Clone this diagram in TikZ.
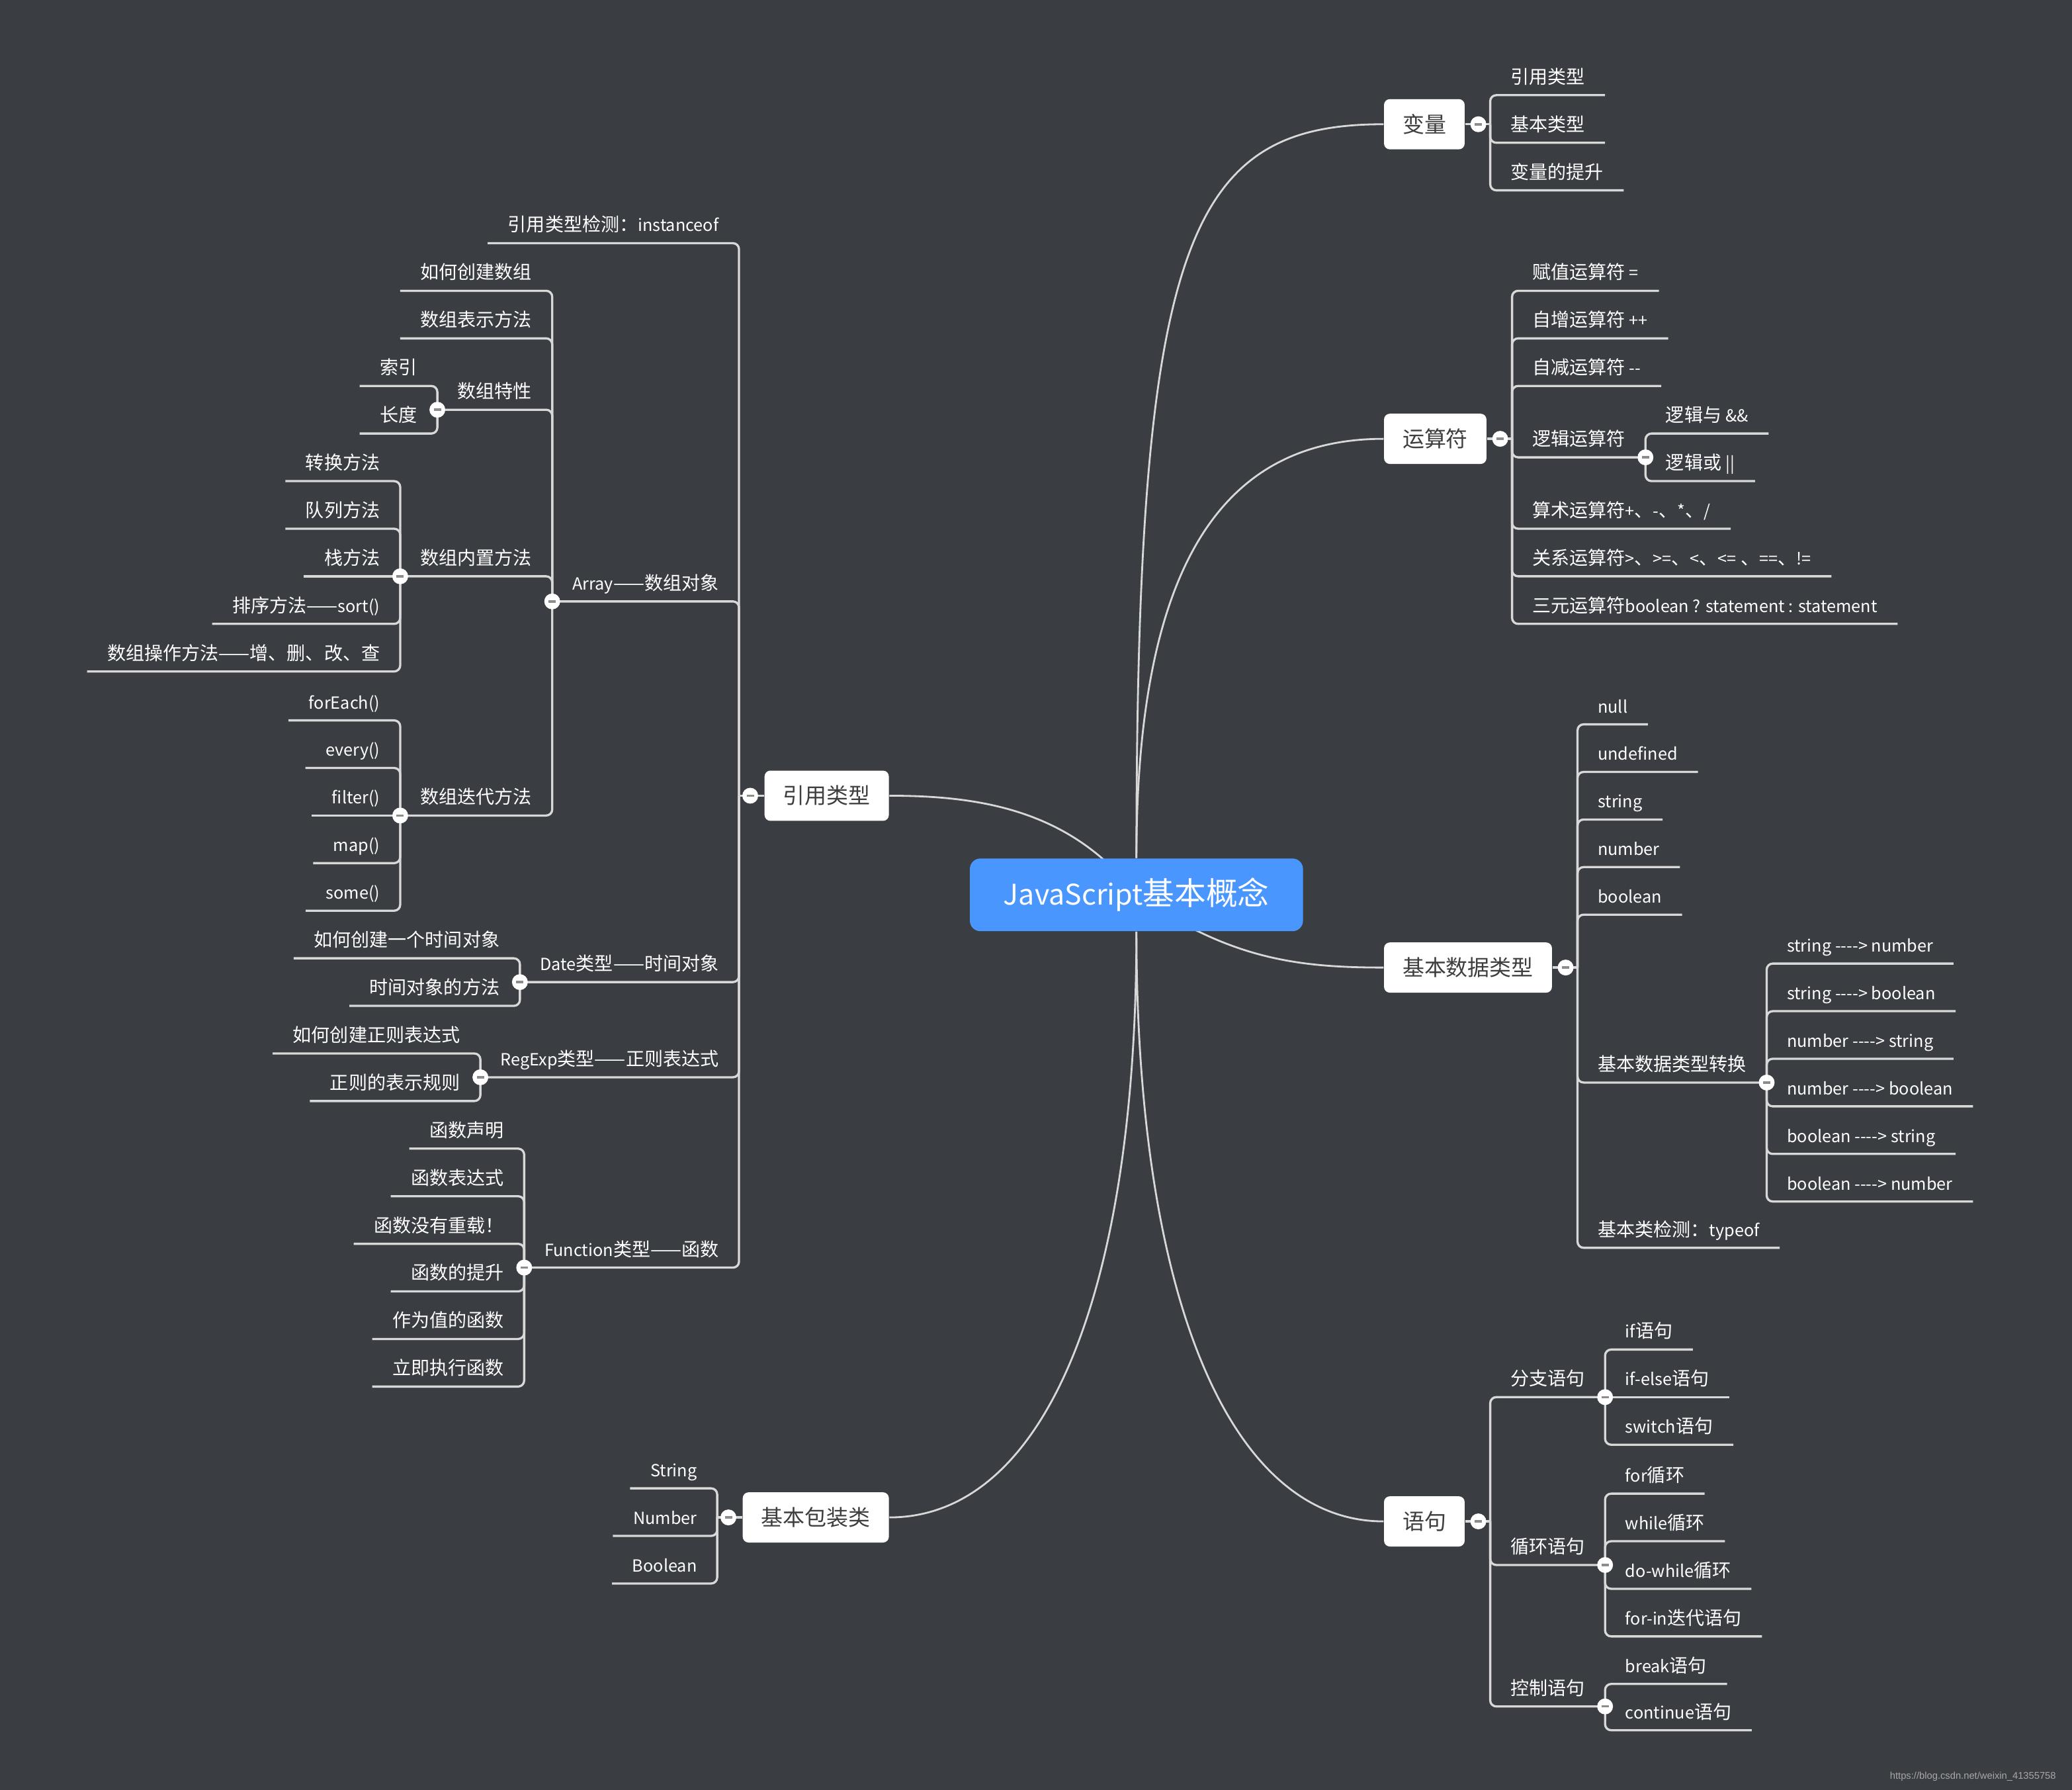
\documentclass[tikz,border=0pt]{standalone}
\usepackage{fontspec}
\setmainfont{Noto Sans CJK SC}[Ligatures=TeXOff]
\newfontfamily\latn{Noto Sans CJK SC}[Ligatures=TeXOff, Scale=0.9]
\newfontfamily\markfont{Liberation Sans}
\usetikzlibrary{positioning}

\definecolor{bgdark}{HTML}{3A3D42}
\definecolor{linegray}{HTML}{D8D8D8}
\definecolor{rootblue}{HTML}{4A96FF}
\definecolor{topictext}{HTML}{3E3E3E}
\definecolor{foldgray}{HTML}{8C8C8C}
\definecolor{markgray}{HTML}{A8A8A8}

\pgfdeclarelayer{bg}
\pgfdeclarelayer{curves}
\pgfsetlayers{bg,curves,main}

\tikzset{
    leafnode/.style={text=white, font=\fontsize{8}{10}\selectfont,
        inner xsep=0.3cm, inner ysep=0pt, text height=7pt, text depth=4.8pt},
    leafR/.style={leafnode, anchor=south west},
    leafL/.style={leafnode, anchor=south east},
    topicbox/.style={fill=white, text=topictext, rounded corners=2.5pt,
        font=\fontsize{9.4}{11}\selectfont, inner xsep=0.28cm, inner ysep=0pt,
        minimum height=0.76cm},
    rootbox/.style={fill=rootblue, text=white, rounded corners=4.5pt,
        font=\fontsize{13.6}{16}\selectfont, inner xsep=0.51cm, inner ysep=0pt,
        minimum height=1.1cm},
    branchline/.style={draw=linegray, line width=0.95pt, rounded corners=2.6pt},
    curveline/.style={draw=linegray, line width=0.8pt},
    foldmark/.style={circle, fill=white, minimum size=0.24cm, inner sep=0pt,
        path picture={\draw[foldgray, line width=1pt]
            ([xshift=-0.055cm]path picture bounding box.center) --
            ([xshift=0.055cm]path picture bounding box.center);}}
}

\begin{document}
\begin{tikzpicture}[x=0.02cm, y=-0.02cm]
    \useasboundingbox (0,0) rectangle (1568,1354);
    \begin{pgfonlayer}{bg}
        \fill[bgdark] (0,0) rectangle (1568,1354);
    \end{pgfonlayer}

    % centre and main topics
    \node[rootbox] (root) at (860,677) {{\latn JavaScript}基本概念};
    \node[topicbox, anchor=west] (var) at (1047,94) {变量};
    \node[topicbox, anchor=west] (op) at (1047,332) {运算符};
    \node[topicbox, anchor=west] (prim) at (1047,732) {基本数据类型};
    \node[topicbox, anchor=west] (stmt) at (1047,1151) {语句};
    \node[topicbox, anchor=east] (ref) at (673,602) {引用类型};
    \node[topicbox, anchor=east] (wrap) at (673,1148) {基本包装类};

    \coordinate[right=0.38cm of var] (varJ);
    \coordinate[right=0.38cm of op] (opJ);
    \coordinate[right=0.38cm of prim] (primJ);
    \coordinate[right=0.38cm of stmt] (stmtJ);
    \coordinate[left=0.38cm of ref] (refJ);
    \coordinate[left=0.38cm of wrap] (wrapJ);

    \begin{pgfonlayer}{curves}
        \draw[curveline] (root.north) .. controls (860,180) and (900,94) .. (var.west);
        \draw[curveline] (root.north) .. controls (860,420) and (930,332) .. (op.west);
        \draw[curveline] (root.center) .. controls (930,725) and (980,732) .. (prim.west);
        \draw[curveline] (root.south) .. controls (860,980) and (930,1151) .. (stmt.west);
        \draw[curveline] (root.center) .. controls (810,612) and (740,602) .. (ref.east);
        \draw[curveline] (root.south) .. controls (860,980) and (790,1148) .. (wrap.east);
    \end{pgfonlayer}

    % 变量
    \draw[branchline] (var) -- (varJ);
    \foreach \y/\n/\txt in {72/varA/引用类型, 108/varB/基本类型, 144/varC/变量的提升} {
        \node[leafR] (\n) at (varJ |- 0,\y) {\txt};
        \draw[branchline] (varJ) |- (\n.south east);
    }

    % 运算符
    \draw[branchline] (op) -- (opJ);
    \foreach \y/\n/\txt in {
        220/opA/赋值运算符 {\latn =},
        256/opB/自增运算符 {\latn ++},
        292/opC/自减运算符 {\latn --},
        346/opD/逻辑运算符,
        400/opE/{算术运算符{\latn +}、{\latn -}、{\latn *}、{\latn /}},
        436/opF/{关系运算符{\latn >}、{\latn >=}、{\latn <}、{\latn <=} 、{\latn ==}、{\latn !=}},
        472/opG/三元运算符{\latn boolean ? statement : statement}
    } {
        \node[leafR] (\n) at (opJ |- 0,\y) {\txt};
        \draw[branchline] (opJ) |- (\n.south east);
    }
    \foreach \y/\n/\txt in {328/opD1/逻辑与 {\latn \&\&}, 364/opD2/逻辑或 {\latn ||}} {
        \node[leafR] (\n) at (opD.south east |- 0,\y) {\txt};
        \draw[branchline] (opD.south east) |- (\n.south east);
    }

    % 基本数据类型
    \draw[branchline] (prim) -- (primJ);
    \foreach \y/\n/\txt in {
        548/primA/{\latn null},
        584/primB/{\latn undefined},
        620/primC/{\latn string},
        656/primD/{\latn number},
        692/primE/{\latn boolean},
        819/primF/基本数据类型转换,
        944/primG/基本类检测：{\latn typeof}
    } {
        \node[leafR] (\n) at (primJ |- 0,\y) {\txt};
        \draw[branchline] (primJ) |- (\n.south east);
    }
    \foreach \y/\n/\txt in {
        729/cvA/{\latn string ----> number},
        765/cvB/{\latn string ----> boolean},
        801/cvC/{\latn number ----> string},
        837/cvD/{\latn number ----> boolean},
        873/cvE/{\latn boolean ----> string},
        909/cvF/{\latn boolean ----> number}
    } {
        \node[leafR] (\n) at (primF.south east |- 0,\y) {\txt};
        \draw[branchline] (primF.south east) |- (\n.south east);
    }

    % 语句
    \draw[branchline] (stmt) -- (stmtJ);
    \foreach \y/\n/\txt in {1057/stA/分支语句, 1184/stB/循环语句, 1291/stC/控制语句} {
        \node[leafR] (\n) at (stmtJ |- 0,\y) {\txt};
        \draw[branchline] (stmtJ) |- (\n.south east);
    }
    \foreach \y/\n/\txt in {1021/ifA/{\latn if}语句, 1093/ifC/{\latn switch}语句} {
        \node[leafR] (\n) at (stA.south east |- 0,\y) {\txt};
        \draw[branchline] (stA.south east) |- (\n.south east);
    }
    \node[leafR] (ifB) at (stA.south east) {{\latn if-else}语句};
    \draw[branchline] (stA.south east) -- (ifB.south east);
    \foreach \y/\n/\txt in {1130/lpA/{\latn for}循环, 1166/lpB/{\latn while}循环, 1202/lpC/{\latn do-while}循环, 1238/lpD/{\latn for-in}迭代语句} {
        \node[leafR] (\n) at (stB.south east |- 0,\y) {\txt};
        \draw[branchline] (stB.south east) |- (\n.south east);
    }
    \foreach \y/\n/\txt in {1274/ctA/{\latn break}语句, 1309/ctB/{\latn continue}语句} {
        \node[leafR] (\n) at (stC.south east |- 0,\y) {\txt};
        \draw[branchline] (stC.south east) |- (\n.south east);
    }

    % 引用类型
    \draw[branchline] (ref) -- (refJ);
    \foreach \y/\n/\txt in {
        184/chk/引用类型检测：{\latn instanceof},
        455/arr/{\latn Array}——数组对象,
        743/date/{\latn Date}类型——时间对象,
        815/reg/{\latn RegExp}类型——正则表达式,
        959/fun/{\latn Function}类型——函数
    } {
        \node[leafL] (\n) at (refJ |- 0,\y) {\txt};
        \draw[branchline] (refJ) |- (\n.south west);
    }
    \foreach \y/\n/\txt in {220/arrA/如何创建数组, 256/arrB/数组表示方法, 310/arrC/数组特性, 436/arrD/数组内置方法, 617/arrE/数组迭代方法} {
        \node[leafL] (\n) at (arr.south west |- 0,\y) {\txt};
        \draw[branchline] (arr.south west) |- (\n.south west);
    }
    \foreach \y/\n/\txt in {292/idx/索引, 328/len/长度} {
        \node[leafL] (\n) at (arrC.south west |- 0,\y) {\txt};
        \draw[branchline] (arrC.south west) |- (\n.south west);
    }
    \foreach \y/\n/\txt in {364/bmA/转换方法, 400/bmB/队列方法, 472/bmD/排序方法——{\latn sort()}, 508/bmE/数组操作方法——增、删、改、查} {
        \node[leafL] (\n) at (arrD.south west |- 0,\y) {\txt};
        \draw[branchline] (arrD.south west) |- (\n.south west);
    }
    \node[leafL] (bmC) at (arrD.south west) {栈方法};
    \draw[branchline] (arrD.south west) -- (bmC.south west);
    \foreach \y/\n/\txt in {545/itA/{\latn forEach()}, 581/itB/{\latn every()}, 653/itD/{\latn map()}, 689/itE/{\latn some()}} {
        \node[leafL] (\n) at (arrE.south west |- 0,\y) {\txt};
        \draw[branchline] (arrE.south west) |- (\n.south west);
    }
    \node[leafL] (itC) at (arrE.south west) {{\latn filter()}};
    \draw[branchline] (arrE.south west) -- (itC.south west);
    \foreach \y/\n/\txt in {725/dtA/如何创建一个时间对象, 761/dtB/时间对象的方法} {
        \node[leafL] (\n) at (date.south west |- 0,\y) {\txt};
        \draw[branchline] (date.south west) |- (\n.south west);
    }
    \foreach \y/\n/\txt in {797/reA/如何创建正则表达式, 833/reB/正则的表示规则} {
        \node[leafL] (\n) at (reg.south west |- 0,\y) {\txt};
        \draw[branchline] (reg.south west) |- (\n.south west);
    }
    \foreach \y/\n/\txt in {
        869/fnA/函数声明,
        905/fnB/函数表达式,
        941/fnC/函数没有重载！,
        977/fnD/函数的提升,
        1013/fnE/作为值的函数,
        1049/fnF/立即执行函数
    } {
        \node[leafL] (\n) at (fun.south west |- 0,\y) {\txt};
        \draw[branchline] (fun.south west) |- (\n.south west);
    }

    % 基本包装类
    \draw[branchline] (wrap) -- (wrapJ);
    \foreach \y/\n/\txt in {1126/wpA/{\latn String}, 1162/wpB/{\latn Number}, 1198/wpC/{\latn Boolean}} {
        \node[leafL] (\n) at (wrapJ |- 0,\y) {\txt};
        \draw[branchline] (wrapJ) |- (\n.south west);
    }

    % fold marks
    \foreach \p in {var.east, op.east, prim.east, stmt.east}
        \node[foldmark] at ([xshift=0.2cm]\p) {};
    \foreach \p in {ref.west, wrap.west}
        \node[foldmark] at ([xshift=-0.21cm]\p) {};
    \foreach \p in {opD.south east, primF.south east, stA.south east, stB.south east,
        stC.south east, arr.south west, arrC.south west, arrD.south west,
        arrE.south west, date.south west, reg.south west, fun.south west}
        \node[foldmark] at (\p) {};

    \node[font=\markfont\fontsize{4.2}{5}\selectfont, text=markgray, anchor=east]
        (mark) at (1562,1344) {https://blog.csdn.net/weixin\_41355758};
\end{tikzpicture}
\end{document}
